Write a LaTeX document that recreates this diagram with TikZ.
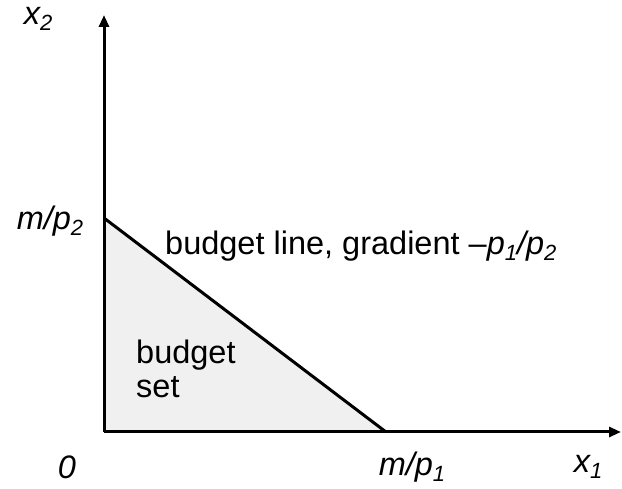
\documentclass[tikz,border=0pt]{standalone}
\usepackage{fontspec}
\setmainfont{Liberation Sans}
\usetikzlibrary{arrows.meta}
\newcommand{\sbs}[1]{\raisebox{-0.35ex}{\fontsize{22}{22}\selectfont #1}}
\begin{document}
\begin{tikzpicture}[x=1pt,y=-1pt,
  axis/.style={line width=3pt,-{Triangle[length=12pt,width=10pt]}},
  lbl/.style={font=\fontsize{32.5}{35}\selectfont,inner sep=0pt},
  blbl/.style={font=\fontsize{32.5}{34}\selectfont,inner sep=0pt,align=left}]
\useasboundingbox (0,0) rectangle (622,489);
\coordinate (O) at (104,432);
\coordinate (A) at (104,218);
\coordinate (B) at (386,432);
\coordinate (Ytop) at (104,15);
\coordinate (Xend) at (621,432);
\fill[black!6] (O) -- (A) -- (B) -- cycle;
\draw[axis] (O) -- (Ytop);
\draw[axis] (O) -- (Xend);
\draw[line width=3pt] (A) -- (B);
\node[lbl] (x2) at (38,19) {\itshape x\sbs{2}};
\node[lbl] (mp2) at (50,221) {\itshape m/p\sbs{2}};
\node[lbl] (zero) at (67,467) {\itshape 0};
\node[lbl] (mp1) at (412,467) {\itshape m/p\sbs{1}};
\node[lbl] (x1) at (588,467) {\itshape x\sbs{1}};
\node[lbl,anchor=west] (bl) at (165,246) {budget line, gradient –\textit{p\sbs{1}/p\sbs{2}}};
\node[blbl,anchor=north west] (bs) at (136,340) {budget\\set};
\end{tikzpicture}
\end{document}
